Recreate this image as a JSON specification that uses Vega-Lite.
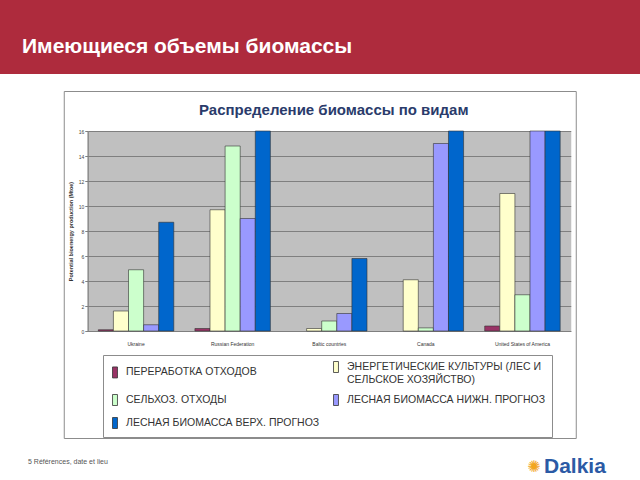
{
  "$schema": "https://vega.github.io/schema/vega-lite/v6.json",
  "background": "white",
  "padding": 0,
  "spacing": 16,
  "center": true,
  "config": {"font": "Liberation Sans"},
  "vconcat": [
    {
      "width": 640,
      "height": 74,
      "view": {"fill": "#ae2b3d", "stroke": null},
      "data": {"values": [{"t": "Имеющиеся объемы биомассы"}]},
      "mark": {"type": "text", "align": "left", "baseline": "alphabetic", "dx": -298, "dy": 16, "font": "Liberation Sans", "fontSize": 21, "fontWeight": "bold", "color": "white"},
      "encoding": {"text": {"field": "t"}}
    },
    {
      "width": 512,
      "height": 347,
      "view": {"fill": "white", "stroke": "#8c8c8c"},
      "title": {"text": "Распределение биомассы по видам", "anchor": "middle", "frame": "group", "offset": -39, "dx": 14, "baseline": "alphabetic", "font": "Liberation Sans", "fontSize": 15, "fontWeight": "bold", "color": "#2a3b6b"},
      "data": {"values": [
        {"country": "Ukraine", "series": "ПЕРЕРАБОТКА ОТХОДОВ", "value": 0.1},
        {"country": "Ukraine", "series": "ЭНЕРГЕТИЧЕСКИЕ КУЛЬТУРЫ (ЛЕС И СЕЛЬСКОЕ ХОЗЯЙСТВО)", "value": 1.6},
        {"country": "Ukraine", "series": "СЕЛЬХОЗ. ОТХОДЫ", "value": 4.9},
        {"country": "Ukraine", "series": "ЛЕСНАЯ БИОМАССА НИЖН. ПРОГНОЗ", "value": 0.5},
        {"country": "Ukraine", "series": "ЛЕСНАЯ БИОМАССА ВЕРХ. ПРОГНОЗ", "value": 8.7},
        {"country": "Russian Federation", "series": "ПЕРЕРАБОТКА ОТХОДОВ", "value": 0.2},
        {"country": "Russian Federation", "series": "ЭНЕРГЕТИЧЕСКИЕ КУЛЬТУРЫ (ЛЕС И СЕЛЬСКОЕ ХОЗЯЙСТВО)", "value": 9.7},
        {"country": "Russian Federation", "series": "СЕЛЬХОЗ. ОТХОДЫ", "value": 14.8},
        {"country": "Russian Federation", "series": "ЛЕСНАЯ БИОМАССА НИЖН. ПРОГНОЗ", "value": 9.0},
        {"country": "Russian Federation", "series": "ЛЕСНАЯ БИОМАССА ВЕРХ. ПРОГНОЗ", "value": 17},
        {"country": "Baltic countries", "series": "ЭНЕРГЕТИЧЕСКИЕ КУЛЬТУРЫ (ЛЕС И СЕЛЬСКОЕ ХОЗЯЙСТВО)", "value": 0.2},
        {"country": "Baltic countries", "series": "СЕЛЬХОЗ. ОТХОДЫ", "value": 0.8},
        {"country": "Baltic countries", "series": "ЛЕСНАЯ БИОМАССА НИЖН. ПРОГНОЗ", "value": 1.4},
        {"country": "Baltic countries", "series": "ЛЕСНАЯ БИОМАССА ВЕРХ. ПРОГНОЗ", "value": 5.8},
        {"country": "Canada", "series": "ЭНЕРГЕТИЧЕСКИЕ КУЛЬТУРЫ (ЛЕС И СЕЛЬСКОЕ ХОЗЯЙСТВО)", "value": 4.1},
        {"country": "Canada", "series": "СЕЛЬХОЗ. ОТХОДЫ", "value": 0.25},
        {"country": "Canada", "series": "ЛЕСНАЯ БИОМАССА НИЖН. ПРОГНОЗ", "value": 15.0},
        {"country": "Canada", "series": "ЛЕСНАЯ БИОМАССА ВЕРХ. ПРОГНОЗ", "value": 17},
        {"country": "United States of America", "series": "ПЕРЕРАБОТКА ОТХОДОВ", "value": 0.4},
        {"country": "United States of America", "series": "ЭНЕРГЕТИЧЕСКИЕ КУЛЬТУРЫ (ЛЕС И СЕЛЬСКОЕ ХОЗЯЙСТВО)", "value": 11.0},
        {"country": "United States of America", "series": "СЕЛЬХОЗ. ОТХОДЫ", "value": 2.9},
        {"country": "United States of America", "series": "ЛЕСНАЯ БИОМАССА НИЖН. ПРОГНОЗ", "value": 17},
        {"country": "United States of America", "series": "ЛЕСНАЯ БИОМАССА ВЕРХ. ПРОГНОЗ", "value": 17}
      ]},
      "mark": {"type": "bar", "stroke": "#333333", "strokeWidth": 0.6},
      "encoding": {
        "x": {
          "field": "country", "type": "nominal", "sort": ["Ukraine", "Russian Federation", "Baltic countries", "Canada", "United States of America"],
          "scale": {"range": [24, 507], "paddingInner": 0, "paddingOuter": 0},
          "axis": {"orient": "top", "offset": -240, "title": null, "labelAngle": 0, "labelFont": "Liberation Sans Narrow, Liberation Sans", "labelFontSize": 5, "labelColor": "#333333", "labelBaseline": "top", "labelPadding": -10, "labelOverlap": false, "ticks": false, "tickSize": 0, "domain": true, "domainColor": "#7f7f7f", "grid": true, "gridColor": "#c0c0c0", "gridWidth": 98, "bandPosition": 0.5}
        },
        "xOffset": {
          "field": "series", "type": "nominal",
          "sort": ["ПЕРЕРАБОТКА ОТХОДОВ", "ЭНЕРГЕТИЧЕСКИЕ КУЛЬТУРЫ (ЛЕС И СЕЛЬСКОЕ ХОЗЯЙСТВО)", "СЕЛЬХОЗ. ОТХОДЫ", "ЛЕСНАЯ БИОМАССА НИЖН. ПРОГНОЗ", "ЛЕСНАЯ БИОМАССА ВЕРХ. ПРОГНОЗ"],
          "scale": {"paddingInner": 0, "paddingOuter": 0.7}
        },
        "y": {
          "field": "value", "type": "quantitative",
          "scale": {"domain": [0, 16], "range": [240, 40], "clamp": true, "nice": false, "zero": true},
          "axis": {"orient": "left", "offset": -24, "values": [0, 2, 4, 6, 8, 10, 12, 14, 16], "grid": true, "gridColor": "#7f7f7f", "gridWidth": 1, "domainColor": "#7f7f7f", "tickColor": "#7f7f7f", "tickSize": 3, "labelFontSize": 5, "labelColor": "#444444", "labelPadding": 1, "title": "Potential bioenergy production (Mtoe)", "titleFontSize": 5.5, "titleFontWeight": "bold", "titleColor": "#333333", "titlePadding": 5}
        },
        "color": {
          "field": "series", "type": "nominal",
          "scale": {
            "domain": ["ПЕРЕРАБОТКА ОТХОДОВ", "ЭНЕРГЕТИЧЕСКИЕ КУЛЬТУРЫ (ЛЕС И СЕЛЬСКОЕ ХОЗЯЙСТВО)", "СЕЛЬХОЗ. ОТХОДЫ", "ЛЕСНАЯ БИОМАССА НИЖН. ПРОГНОЗ", "ЛЕСНАЯ БИОМАССА ВЕРХ. ПРОГНОЗ"],
            "range": ["#993366", "#FFFFCC", "#CCFFCC", "#9999FF", "#0066CC"]
          },
          "legend": {
            "orient": "none", "legendX": 103, "legendY": 355, "columns": 2, "direction": "horizontal", "title": null,
            "symbolType": "M-0.45,-1H0.45V1H-0.45Z", "symbolSize": 121, "symbolStrokeColor": "#333333", "symbolStrokeWidth": 0.8, "symbolOpacity": 1,
            "labelFont": "Liberation Sans", "labelFontSize": 10.5, "labelColor": "#333333", "labelOffset": 5, "labelLimit": 400,
            "labelExpr": "datum.label == 'ЭНЕРГЕТИЧЕСКИЕ КУЛЬТУРЫ (ЛЕС И СЕЛЬСКОЕ ХОЗЯЙСТВО)' ? ['ЭНЕРГЕТИЧЕСКИЕ КУЛЬТУРЫ (ЛЕС И', '\u00a0\u00a0\u00a0\u00a0\u00a0\u00a0\u00a0\u00a0СЕЛЬСКОЕ ХОЗЯЙСТВО)'] : datum.label",
            "columnPadding": 10, "rowPadding": 7, "padding": 6, "strokeColor": "#8c8c8c", "fillColor": "white"
          }
        }
      }
    },
    {
      "width": 640,
      "height": 27,
      "view": {"stroke": null},
      "layer": [
        {
          "data": {"values": [{"t": "5   Références, date et lieu"}]},
          "mark": {"type": "text", "align": "left", "baseline": "middle", "dx": -292, "dy": -9, "fontSize": 7, "color": "#555555"},
          "encoding": {"text": {"field": "t"}}
        },
        {
          "data": {"values": [{"t": "✺"}]},
          "mark": {"type": "text", "align": "center", "baseline": "middle", "dx": 214, "dy": -4, "font": "DejaVu Sans", "fontSize": 16, "color": "#f2a51f"},
          "encoding": {"text": {"field": "t"}}
        },
        {
          "data": {"values": [{"t": "Dalkia"}]},
          "mark": {"type": "text", "align": "left", "baseline": "middle", "dx": 224, "dy": -4, "font": "Liberation Sans", "fontSize": 21, "fontWeight": "bold", "color": "#2b5aa5"},
          "encoding": {"text": {"field": "t"}}
        }
      ]
    }
  ]
}
